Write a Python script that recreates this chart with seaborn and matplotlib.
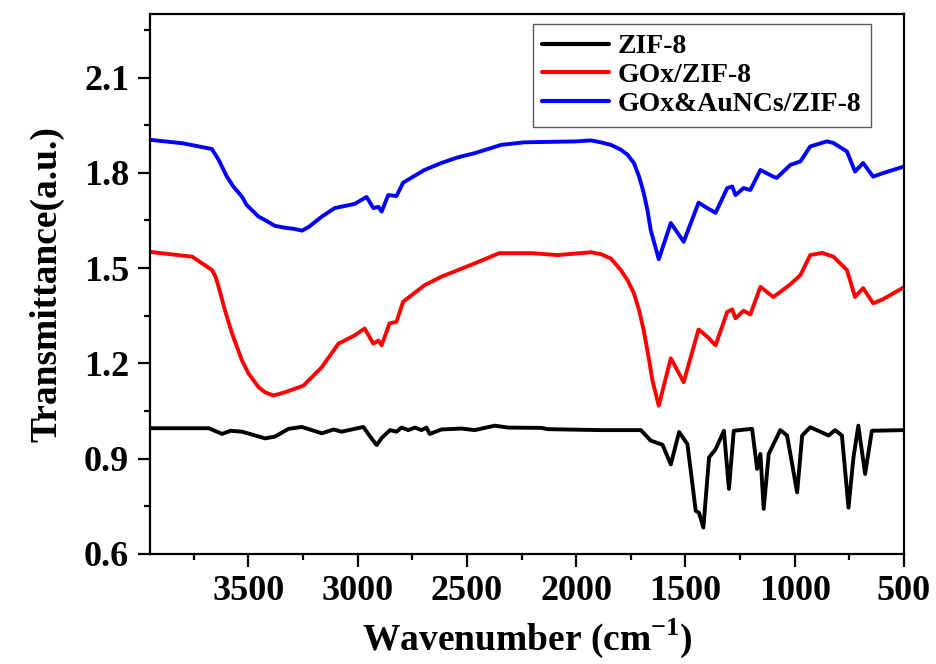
import numpy as np
import pandas as pd
import matplotlib
matplotlib.use("Agg")
import matplotlib.pyplot as plt
import seaborn as sns
from matplotlib.ticker import MultipleLocator
from matplotlib.lines import Line2D

# ---- data ----
series_names = ["ZIF-8", "GOx/ZIF-8", "GOx&AuNCs/ZIF-8"]
series_colors = ["#000000", "#ff0000", "#0000ff"]

zif8_x = [3950, 3681, 3620, 3581, 3529, 3423, 3377, 3316, 3255, 3164, 3110, 3073, 3027,
          2974, 2943, 2913, 2890, 2852, 2822, 2799, 2768, 2738, 2708, 2685, 2670, 2617,
          2525, 2464, 2373, 2312, 2160, 2130, 1887, 1704, 1659, 1605, 1567, 1529, 1491,
          1453, 1438, 1418, 1392, 1362, 1324, 1301, 1279, 1195, 1172, 1157, 1142, 1119,
          1066, 1035, 989, 966, 929, 899, 845, 815, 784, 754, 731, 709, 678, 647, 500]
zif8_y = [0.996, 0.996, 0.978, 0.988, 0.985, 0.964, 0.970, 0.994, 1.000, 0.980, 0.992, 0.985, 0.992,
          1.000, 0.970, 0.943, 0.965, 0.990, 0.985, 0.998, 0.990, 0.998, 0.990, 0.998, 0.978, 0.992,
          0.995, 0.990, 1.004, 0.998, 0.997, 0.993, 0.990, 0.990, 0.957, 0.944, 0.882, 0.984, 0.946,
          0.736, 0.730, 0.683, 0.904, 0.930, 0.988, 0.805, 0.988, 0.994, 0.868, 0.915, 0.742, 0.915,
          0.990, 0.973, 0.794, 0.973, 0.999, 0.990, 0.973, 0.990, 0.973, 0.746, 0.905, 1.004, 0.852, 0.988, 0.990]

gox_x = [3950, 3757, 3666, 3650, 3636, 3607, 3575, 3529, 3499, 3453, 3423, 3385, 3333, 3248,
         3164, 3088, 3014, 2968, 2928, 2905, 2890, 2854, 2822, 2792, 2694, 2617, 2540, 2464,
         2352, 2200, 2084, 1932, 1887, 1841, 1796, 1765, 1736, 1712, 1691, 1666, 1651, 1622,
         1567, 1508, 1440, 1400, 1362, 1309, 1286, 1271, 1234, 1203, 1157, 1098, 1066, 1020,
         974, 929, 875, 823, 761, 724, 687, 641, 596, 500]
gox_y = [1.551, 1.536, 1.494, 1.473, 1.441, 1.367, 1.295, 1.209, 1.168, 1.125, 1.109, 1.099, 1.109, 1.130,
         1.188, 1.262, 1.288, 1.310, 1.262, 1.272, 1.257, 1.326, 1.331, 1.394, 1.446, 1.473, 1.494, 1.515,
         1.547, 1.547, 1.541, 1.550, 1.544, 1.530, 1.494, 1.462, 1.421, 1.367, 1.304, 1.209, 1.146, 1.067,
         1.216, 1.141, 1.307, 1.284, 1.257, 1.362, 1.370, 1.342, 1.366, 1.354, 1.441, 1.409, 1.425, 1.449,
         1.478, 1.541, 1.548, 1.536, 1.494, 1.409, 1.437, 1.389, 1.402, 1.440]

au_x = [3950, 3800, 3667, 3636, 3599, 3569, 3529, 3508, 3453, 3423, 3378, 3331, 3286, 3255,
        3225, 3164, 3105, 3014, 2959, 2928, 2905, 2890, 2860, 2822, 2792, 2694, 2617, 2540,
        2464, 2343, 2238, 2000, 1932, 1887, 1841, 1796, 1765, 1736, 1712, 1691, 1674, 1659,
        1622, 1567, 1508, 1440, 1400, 1362, 1309, 1286, 1271, 1234, 1203, 1157, 1098, 1082,
        1020, 974, 929, 853, 823, 761, 724, 687, 641, 596, 500]
au_y = [1.904, 1.893, 1.875, 1.841, 1.789, 1.757, 1.725, 1.699, 1.662, 1.651, 1.633, 1.627, 1.623, 1.618,
        1.629, 1.662, 1.689, 1.702, 1.724, 1.689, 1.693, 1.678, 1.730, 1.727, 1.769, 1.809, 1.831, 1.849,
        1.862, 1.888, 1.896, 1.899, 1.902, 1.896, 1.888, 1.873, 1.857, 1.831, 1.788, 1.737, 1.683, 1.620,
        1.528, 1.642, 1.583, 1.706, 1.689, 1.674, 1.752, 1.757, 1.730, 1.752, 1.746, 1.809, 1.788, 1.784,
        1.825, 1.836, 1.883, 1.899, 1.894, 1.867, 1.804, 1.831, 1.788, 1.799, 1.820]

x_ticks = [3500, 3000, 2500, 2000, 1500, 1000, 500]
y_ticks = [0.6, 0.9, 1.2, 1.5, 1.8, 2.1]

frames = []
for name, xs, ys in zip(series_names, [zif8_x, gox_x, au_x], [zif8_y, gox_y, au_y]):
    frames.append(pd.DataFrame({"Wavenumber": xs, "T": ys, "Sample": name}))
df = pd.concat(frames, ignore_index=True)

sns.set_theme(style="ticks")
plt.rcParams["font.family"] = ["Liberation Serif", "DejaVu Serif"]
plt.rcParams["font.weight"] = "bold"
plt.rcParams["text.color"] = "black"
plt.rcParams["axes.labelcolor"] = "black"
plt.rcParams["xtick.color"] = "black"
plt.rcParams["ytick.color"] = "black"
plt.rcParams["axes.edgecolor"] = "black"
plt.rcParams["mathtext.fontset"] = "custom"
plt.rcParams["mathtext.rm"] = "Liberation Serif:bold"
plt.rcParams["mathtext.bf"] = "Liberation Serif:bold"

fig = plt.figure(figsize=(9.36, 6.64), dpi=100)
ax = fig.add_axes([150 / 936, 110 / 664, 754 / 936, 540 / 664])

sns.lineplot(data=df, x="Wavenumber", y="T", hue="Sample", hue_order=series_names,
             palette=dict(zip(series_names, series_colors)), sort=False, estimator=None,
             linewidth=2.8, ax=ax, legend=False)
for ln in ax.get_lines():
    ln.set_solid_joinstyle("round")

ax.set_xlim(3950, 500)
ax.set_ylim(0.6, 2.3)
ax.set_xticks(x_ticks)
ax.set_yticks(y_ticks)
ax.xaxis.set_minor_locator(MultipleLocator(250))
ax.yaxis.set_minor_locator(MultipleLocator(0.15))
ax.set_xticklabels([str(v) for v in x_ticks])
ax.set_yticklabels([f"{v:.1f}" for v in y_ticks])
ax.tick_params(axis="both", which="major", direction="out", length=9, width=1.6,
               labelsize=26, pad=6, top=False, right=False, colors="black")
ax.tick_params(axis="both", which="minor", direction="out", length=4.5, width=1.6,
               top=False, right=False, colors="black")
for lab in ax.get_xticklabels() + ax.get_yticklabels():
    lab.set_fontweight("bold")
for sp in ax.spines.values():
    sp.set_linewidth(1.6)
    sp.set_color("black")

ax.set_xlabel(r"Wavenumber (cm$^{\mathbf{-1}}$)", fontsize=27, fontweight="bold",
              labelpad=6, color="black")
ax.set_ylabel("Transmittance(a.u.)", fontsize=27, fontweight="bold", labelpad=14, color="black")

handles = [Line2D([], [], color=c, lw=3) for c in series_colors]
leg = ax.legend(handles, series_names, loc="upper right", bbox_to_anchor=(0.956, 0.981),
                fontsize=20, frameon=True, fancybox=False, handlelength=2.4,
                borderpad=0.35, labelspacing=0.12, handletextpad=0.3, borderaxespad=0)
leg.get_frame().set_edgecolor("#333333")
leg.get_frame().set_linewidth(1.0)
for t in leg.get_texts():
    t.set_fontweight("bold")
    t.set_color("black")

fig.savefig("out.png", dpi=100)
